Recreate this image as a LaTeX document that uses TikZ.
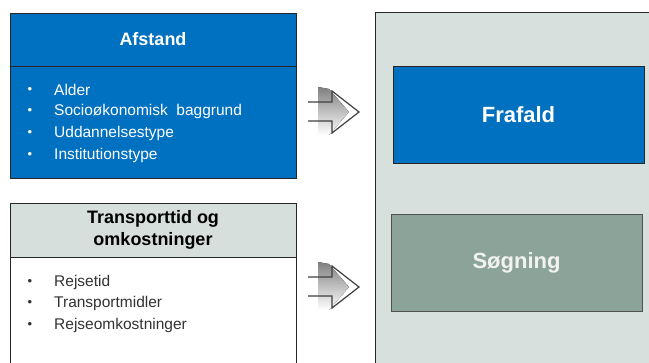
\documentclass[tikz,border=0pt]{standalone}
\usepackage{fontspec}
\setmainfont{Liberation Sans}
\definecolor{blu}{HTML}{0070C0}
\definecolor{panelc}{HTML}{D8E0DD}
\definecolor{hdr}{HTML}{D6DFDB}
\definecolor{sog}{HTML}{8BA398}
\definecolor{edge}{HTML}{262626}
\definecolor{txt}{HTML}{333333}
\definecolor{shade}{HTML}{BFBFBF}
\definecolor{arrline}{HTML}{404040}
\tikzset{
  boxbase/.style={rectangle, inner sep=0pt, draw=edge, line width=0.9pt},
  headtxt/.style={font=\fontsize{18}{22}\selectfont\bfseries, align=center},
  bigtxt/.style={font=\fontsize{22}{26}\selectfont\bfseries},
  bultxt/.style={font=\fontsize{15.5}{18}\selectfont, anchor=west, inner sep=0pt},
  bulmark/.style={font=\fontsize{13}{16}\selectfont, anchor=center, inner sep=0pt},
  pics/blockarr/.style={code={
    \fill[shade] (-41,-25) -- (-30,-23) -- (-10,0) -- (-30,23) -- (-41,23) -- cycle;
    \draw[arrline, line width=1.2pt, line join=miter]
      (-51,-10) -- (-27,-10) -- (-27,-21) -- (0,0) -- (-27,21) -- (-27,9) -- (-51,9);
  }}
}
\begin{document}
\begin{tikzpicture}[x=1pt,y=-1pt]
\useasboundingbox (0,0) rectangle (649,363);
\clip (0,0) rectangle (649,363);
\fill[white] (0,0) rectangle (649,363);

% right panel
\node[boxbase, fill=panelc, anchor=north west, minimum width=300pt, minimum height=380pt] (panel) at (375,12) {};

% Afstand box
\node[boxbase, fill=blu, minimum width=286pt, minimum height=112pt] (afstbody) at (153,122) {};
\node[boxbase, fill=blu, minimum width=286pt, minimum height=53pt, text=white, headtxt] (afsthead) at (153,39.5) {Afstand};
\draw[edge, line width=1.6pt] (afsthead.south west) -- (afsthead.south east);

\foreach \y/\t [count=\i] in {90/Alder, 111/{Socioøkonomisk\ \ baggrund}, 133/Uddannelsestype, 155/Institutionstype}{
  \node[bulmark, text=white] (ab\i) at (30,\y) {•};
  \node[bultxt, text=white] (at\i) at (54,\y) {\t};
}

% Transport box
\node[boxbase, fill=white, anchor=north, minimum width=286pt, minimum height=150pt] (trbody) at (153,257) {};
\node[boxbase, fill=hdr, minimum width=286pt, minimum height=54pt, headtxt, text=black] (trhead) at (153,230) {Transporttid og\\omkostninger};
\draw[edge, line width=1.6pt] (trhead.south west) -- (trhead.south east);

\foreach \y/\t [count=\i] in {282/Rejsetid, 303/Transportmidler, 325/Rejseomkostninger}{
  \node[bulmark, text=txt] (tb\i) at (30,\y) {•};
  \node[bultxt, text=txt] (tt\i) at (54,\y) {\t};
}

% outcome boxes
\node[boxbase, fill=blu, minimum width=251pt, minimum height=97pt, text=white, bigtxt] (frafald) at (518.5,114.5) {Frafald};
\node[boxbase, draw=edge!80, fill=sog, minimum width=251pt, minimum height=97pt, text=white!95!black, bigtxt] (sogning) at (516.5,262.5) {Søgning};

% block arrows
\pic at (359,112) {blockarr};
\pic at (359,287) {blockarr};
\end{tikzpicture}
\end{document}
